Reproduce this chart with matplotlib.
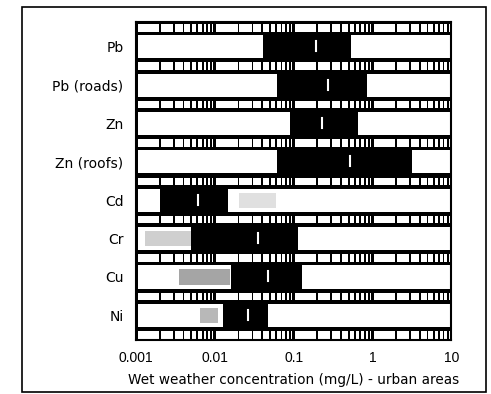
import numpy as np
import matplotlib.pyplot as plt
from matplotlib.patches import Rectangle

plt.rcParams['font.family'] = ['DejaVu Sans']

# metals, top to bottom
metals = ['Pb', 'Pb (roads)', 'Zn', 'Zn (roofs)', 'Cd', 'Cr', 'Cu', 'Ni']
# black range of each bar (mg/L)
low = [0.041, 0.062, 0.091, 0.062, 0.002, 0.005, 0.016, 0.0127]
high = [0.53, 0.85, 0.65, 3.2, 0.0145, 0.115, 0.128, 0.048]
# white marks inside the black bars
marks = [0.19, 0.27, 0.23, 0.52, 0.0061, 0.035, 0.048, 0.026]
# grey stippled parts (row, from, to, shade)
grey_row = [4, 5, 6, 7]
grey_lo = [0.02, 0.0013, 0.0035, 0.0065]
grey_hi = [0.06, 0.005, 0.0155, 0.011]
grey_col = ['#e0e0e0', '#cfcfcf', '#a5a5a5', '#b8b8b8']

tick_vals = [0.001, 0.01, 0.1, 1, 10]
tick_labels = ['0.001', '0.01', '0.1', '1', '10']

fig = plt.figure(figsize=(4.91, 3.94), dpi=100)
ax = fig.add_axes([0.277, 0.137, 0.642, 0.807])

band = 11
row = 27
period = band + row
px = 4.0 / 315  # one pixel in log units

ax.add_patch(Rectangle((-3, 0), 4, period * 8 + band, facecolor='black', edgecolor='none'))

# tick bands between rows
edges = []
for k in range(-3, 1):
    for m in range(1, 10):
        edges.append(k + np.log10(m))
edges.append(1.0)
for i in range(9):
    y0 = i * period
    for a, b in zip(edges[:-1], edges[1:]):
        la = 1.6 * px if abs(a - round(a)) < 1e-9 else 0.9 * px
        lb = 1.6 * px if abs(b - round(b)) < 1e-9 else 0.9 * px
        ax.add_patch(Rectangle((a + la, y0 + 2), (b - a) - la - lb, band - 3.5,
                               facecolor='white', edgecolor='none'))

# rows
for i in range(8):
    y0 = i * period + band + 2
    h = row - 4
    lo = np.log10(low[i])
    hi = np.log10(high[i])
    if lo > -3 + 3 * px:
        ax.add_patch(Rectangle((-3 + 1.5 * px, y0), lo - (-3 + 1.5 * px), h,
                               facecolor='white', edgecolor='none'))
    ax.add_patch(Rectangle((hi, y0), 1 - 1.5 * px - hi, h,
                           facecolor='white', edgecolor='none'))
    mx = np.log10(marks[i])
    ax.plot([mx, mx], [y0 + 6, y0 + h - 7], color='white', lw=1.5)

for r, a, b, c in zip(grey_row, grey_lo, grey_hi, grey_col):
    y0 = r * period + band + 6
    ax.add_patch(Rectangle((np.log10(a), y0), np.log10(b) - np.log10(a), row - 12,
                           facecolor=c, edgecolor='none'))

ax.set_xlim(-3, 1)
ax.set_ylim(period * 8 + band, 0)
ax.set_xticks(np.log10(tick_vals))
ax.set_xticklabels(tick_labels, fontsize=10, family=['Liberation Sans'])
ax.set_yticks([i * period + band + row / 2 for i in range(8)])
ax.set_yticklabels(metals, fontsize=10)
ax.tick_params(axis='x', length=0, pad=8)
ax.tick_params(axis='y', length=0, pad=9)
for s in ax.spines.values():
    s.set_linewidth(1.5)
ax.set_xlabel('Wet weather concentration (mg/L) - urban areas', fontsize=9.8, labelpad=6)

fig.patches.append(Rectangle((0.045, 0.005), 0.945, 0.977, transform=fig.transFigure,
                             fill=False, edgecolor='black', lw=1.2))

fig.savefig('out.png', dpi=100)
